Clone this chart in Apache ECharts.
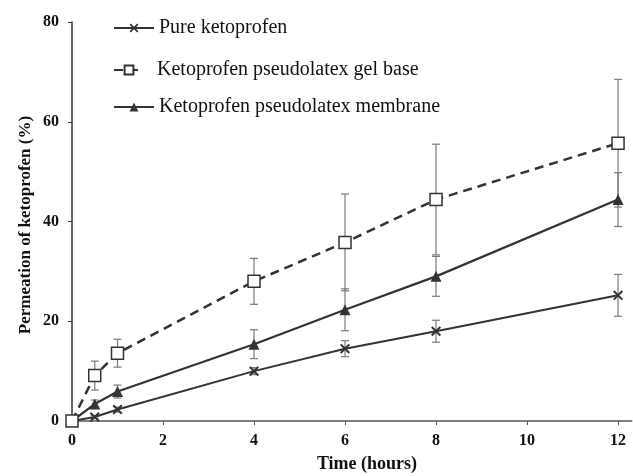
<!DOCTYPE html>
<html><head><meta charset="utf-8">
<script src="https://cdn.jsdelivr.net/npm/echarts@6/dist/echarts.min.js"></script>
<style>html,body{margin:0;padding:0;background:#fff}#c{width:633px;height:476px}</style>
</head><body><div id="c"></div>
<script>
const times = [0, 0.5, 1, 4, 6, 8, 12];
const pure = [0, 0.8, 2.3, 10.0, 14.5, 18.0, 25.2];
const pureErr = [0, 0.3, 0.5, 0.7, 1.6, 2.2, 4.2];
const gel = [0, 9.1, 13.6, 28.0, 35.8, 44.4, 55.7];
const gelErr = [0, 2.9, 2.8, 4.6, 9.7, 11.1, 12.8];
const mem = [0, 3.4, 5.9, 15.4, 22.3, 29.0, 44.4];
const memErr = [0, 0.8, 1.3, 2.9, 4.2, 4.0, 5.4];
const xTicks = [0, 2, 4, 6, 8, 10, 12];
const yTicks = [0, 20, 40, 60, 80];
const names = ['Pure ketoprofen', 'Ketoprofen pseudolatex gel base', 'Ketoprofen pseudolatex membrane'];
const xTitle = 'Time (hours)';
const yTitle = 'Permeation of ketoprofen (%)';

const FONT = '"Liberation Serif","Times New Roman",serif';
const chart = echarts.init(document.getElementById('c'), null, {renderer: 'canvas'});

function errSeries(vals, errs) {
  return {
    type: 'custom', z: 1, silent: true,
    data: times.map((t, i) => [t, vals[i], errs[i]]),
    renderItem: function (params, api) {
      const x = api.value(0), y = api.value(1), e = api.value(2);
      if (!e) return null;
      const t = api.coord([x, y + e]), b = api.coord([x, y - e]);
      const w = 4;
      const st = {stroke: '#7a7a7a', lineWidth: 1.2};
      return {type: 'group', children: [
        {type: 'line', shape: {x1: t[0], y1: t[1], x2: b[0], y2: b[1]}, style: st},
        {type: 'line', shape: {x1: t[0] - w, y1: t[1], x2: t[0] + w, y2: t[1]}, style: st},
        {type: 'line', shape: {x1: b[0] - w, y1: b[1], x2: b[0] + w, y2: b[1]}, style: st}
      ]};
    }
  };
}
const xSym = 'path://M0,1.4L1.4,0L10,8.6L8.6,10Z M8.6,0L10,1.4L1.4,10L0,8.6Z';

function legendAt(name, top, width, pad) {
  return {
    data: [name], left: 108, top: top, itemWidth: width, itemHeight: 11, itemGap: 4,
    textStyle: {fontFamily: FONT, fontSize: 20, color: '#111', padding: [0, 0, 0, pad]}, selectedMode: false
  };
}

chart.setOption({
  animation: false,
  backgroundColor: '#fff',
  legend: [legendAt(names[0], 13, 40, 0), legendAt(names[1], 55, 30, 8), legendAt(names[2], 92, 40, 0)],
  grid: {left: 72, top: 22, right: 1.3, bottom: 55, containLabel: false},
  xAxis: {
    type: 'value', min: 0, max: 12.3,
    axisLine: {show: true, onZero: false, lineStyle: {color: '#555', width: 1.5}},
    axisTick: {show: true, length: 4, customValues: xTicks, lineStyle: {color: '#555'}},
    axisLabel: {customValues: xTicks, fontFamily: FONT, fontSize: 16, fontWeight: 'bold', color: '#111', margin: 12},
    splitLine: {show: false}
  },
  yAxis: {
    type: 'value', min: 0, max: 80, interval: 20,
    axisLine: {show: true, lineStyle: {color: '#333', width: 1.5}},
    axisTick: {show: true, length: 4, lineStyle: {color: '#333'}},
    axisLabel: {fontFamily: FONT, fontSize: 16, fontWeight: 'bold', color: '#111', margin: 13},
    splitLine: {show: false}
  },
  graphic: [{
    type: 'text', x: 26, y: 225, rotation: Math.PI / 2,
    style: {text: yTitle, fontFamily: FONT, fontSize: 17, fontWeight: 'bold',
      fill: '#111', align: 'center', verticalAlign: 'middle'}
  }, {
    type: 'text', x: 367, y: 464,
    style: {text: xTitle, fontFamily: FONT, fontSize: 18, fontWeight: 'bold',
      fill: '#111', align: 'center', verticalAlign: 'middle'}
  }],
  series: [
    errSeries(pure, pureErr), errSeries(gel, gelErr), errSeries(mem, memErr),
    {
      name: names[0], type: 'line', z: 3, data: times.map((t, i) => [t, pure[i]]),
      symbol: xSym, symbolSize: 10, showAllSymbol: true,
      lineStyle: {color: '#333', width: 2},
      itemStyle: {color: '#333'}
    },
    {
      name: names[1], type: 'line', z: 4, data: times.map((t, i) => [t, gel[i]]),
      symbol: 'rect', symbolSize: 12, showAllSymbol: true,
      lineStyle: {color: '#333', width: 2.5, type: [9, 6]},
      itemStyle: {color: '#fff', borderColor: '#333', borderWidth: 1.5}
    },
    {
      name: names[2], type: 'line', z: 3, data: times.map((t, i) => [t, mem[i]]),
      symbol: 'triangle', symbolSize: 11, showAllSymbol: true,
      lineStyle: {color: '#333', width: 2.2},
      itemStyle: {color: '#333'}
    }
  ]
});
</script></body></html>
